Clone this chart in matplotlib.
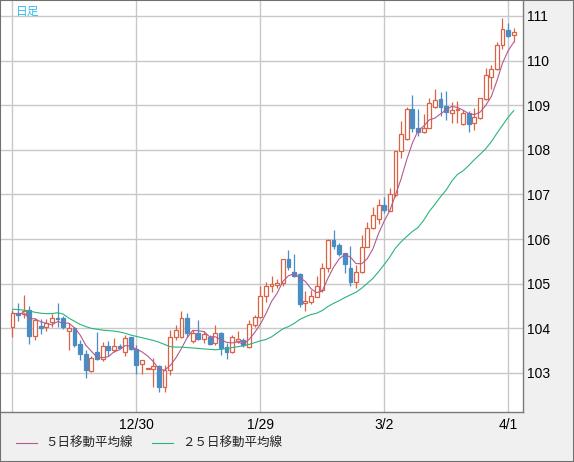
import matplotlib
matplotlib.use("Agg")
import matplotlib.pyplot as plt
from matplotlib.lines import Line2D
from matplotlib.patches import Rectangle
import numpy as np
import pandas as pd

plt.rcParams['font.family'] = ['Liberation Sans', 'Noto Sans CJK JP', 'DejaVu Sans']

# ---- data ----
opens = [104.04, 104.35, 104.32, 104.41, 103.84, 104.05, 104.02, 104.14, 104.23, 104.23,
         103.93, 104.00, 103.65, 103.42, 103.05, 103.47, 103.31, 103.61, 103.52, 103.60,
         103.48, 103.80, 103.54, 103.20, 103.10, 103.08, 103.16, 102.69, 103.07, 103.80,
         103.80, 104.23, 103.72, 103.90, 103.76, 103.80, 103.67, 103.90, 103.59, 103.48,
         103.72, 103.75, 103.59, 104.08, 104.25, 104.73, 104.95, 104.97, 105.01, 105.56,
         105.27, 105.22, 104.56, 104.60, 104.71, 104.85, 105.35, 105.98, 105.87, 105.68,
         105.36, 105.05, 105.26, 105.83, 106.24, 106.45, 106.77, 106.64, 106.99, 107.98,
         108.24, 108.92, 108.50, 108.40, 108.49, 108.96, 109.14, 108.99, 108.82, 108.90,
         108.58, 108.82, 108.60, 108.71, 109.14, 109.64, 109.81, 110.35, 110.69, 110.58]
highs = [104.41, 104.56, 104.75, 104.51, 104.23, 104.20, 104.20, 104.32, 104.56, 104.27,
         104.12, 104.04, 103.74, 103.52, 103.38, 103.92, 103.70, 103.71, 103.78, 103.65,
         103.85, 103.81, 103.63, 103.29, 103.12, 103.33, 103.18, 103.18, 103.96, 104.08,
         104.39, 104.34, 103.96, 104.19, 103.93, 103.85, 104.08, 103.91, 103.67, 103.85,
         103.93, 103.78, 104.19, 104.30, 104.94, 105.05, 105.17, 105.10, 105.56, 105.76,
         105.66, 105.23, 104.84, 104.86, 105.17, 105.46, 106.00, 106.21, 105.91, 105.69,
         105.85, 105.42, 106.09, 106.39, 106.71, 106.89, 106.95, 107.14, 107.98, 108.64,
         108.96, 109.23, 108.92, 108.81, 109.16, 109.37, 109.29, 109.32, 109.08, 109.10,
         108.90, 108.87, 108.93, 109.16, 109.83, 109.91, 110.41, 110.95, 110.84, 110.73]
lows = [103.81, 104.17, 104.23, 103.65, 103.74, 103.88, 103.95, 104.04, 104.04, 103.99,
        103.52, 103.59, 103.30, 102.88, 103.03, 103.29, 103.27, 103.38, 103.48, 103.55,
        103.38, 103.52, 102.97, 102.98, 103.09, 102.69, 102.58, 102.58, 102.96, 103.74,
        103.78, 103.81, 103.67, 103.74, 103.67, 103.63, 103.63, 103.40, 103.31, 103.44,
        103.67, 103.59, 103.55, 104.04, 104.23, 104.60, 104.82, 104.90, 104.94, 105.31,
        105.14, 104.47, 104.40, 104.55, 104.70, 104.82, 105.27, 105.78, 105.62, 105.23,
        104.95, 104.91, 105.23, 105.82, 106.22, 106.34, 106.58, 106.62, 106.94, 107.81,
        108.22, 108.41, 108.31, 108.37, 108.48, 108.93, 108.75, 108.67, 108.61, 108.61,
        108.56, 108.40, 108.45, 108.69, 109.12, 109.36, 109.79, 110.26, 110.52, 110.41]
closes = [104.34, 104.30, 104.40, 103.84, 104.19, 104.01, 104.13, 104.23, 104.20, 104.02,
          104.00, 103.63, 103.42, 103.06, 103.33, 103.31, 103.60, 103.52, 103.60, 103.57,
          103.78, 103.54, 103.18, 103.29, 103.11, 103.16, 102.69, 103.07, 103.80, 103.96,
          104.23, 103.89, 103.89, 103.76, 103.87, 103.65, 103.89, 103.55, 103.48, 103.80,
          103.76, 103.63, 104.09, 104.25, 104.73, 104.95, 105.00, 105.02, 105.55, 105.38,
          105.17, 104.55, 104.61, 104.73, 104.94, 105.35, 105.98, 105.85, 105.66, 105.44,
          105.05, 105.26, 105.83, 106.24, 106.54, 106.77, 106.65, 107.01, 107.98, 108.35,
          108.92, 108.49, 108.40, 108.50, 109.05, 109.12, 108.97, 108.84, 108.90, 108.92,
          108.82, 108.58, 108.73, 109.16, 109.68, 109.81, 110.35, 110.71, 110.56, 110.64]
ma25 = [104.43, 104.42, 104.41, 104.39, 104.36, 104.34, 104.33, 104.33, 104.35, 104.32,
        104.23, 104.16, 104.09, 104.04, 104.00, 103.98, 103.96, 103.95, 103.94, 103.92,
        103.89, 103.85, 103.82, 103.79, 103.76, 103.73, 103.69, 103.64, 103.59, 103.58,
        103.58, 103.57, 103.56, 103.55, 103.54, 103.53, 103.52, 103.53, 103.55, 103.57,
        103.59, 103.61, 103.64, 103.68, 103.72, 103.75, 103.81, 103.90, 103.99, 104.04,
        104.11, 104.20, 104.26, 104.31, 104.34, 104.40, 104.49, 104.56, 104.62, 104.69,
        104.75, 104.81, 104.90, 105.01, 105.12, 105.27, 105.43, 105.60, 105.80, 105.94,
        106.06, 106.17, 106.26, 106.42, 106.62, 106.78, 106.95, 107.10, 107.30, 107.45,
        107.53, 107.65, 107.78, 107.90, 108.02, 108.18, 108.37, 108.55, 108.73, 108.88]
x_tick_pos = [0, 22, 44, 66, 88]
x_tick_labels = ['', '12/30', '1/29', '3/2', '4/1']
y_ticks = [103, 104, 105, 106, 107, 108, 109, 110, 111]
legend_labels = ['５日移動平均線', '２５日移動平均線']
title_text = '日足'

UP = '#DA6245'
DOWN = '#4A8CC4'
MA5_C = '#B45A8C'
MA25_C = '#2BB478'
GRID = '#C8C8C8'

W, H = 574, 462
fig = plt.figure(figsize=(W / 100, H / 100), dpi=100, facecolor='#F0F0F0')
ax = fig.add_axes([1 / W, 50 / H, 522 / W, 411 / H])
ax.set_facecolor('white')

o = np.array(opens); h = np.array(highs); l = np.array(lows); c = np.array(closes)
x = np.arange(len(o))
up = c >= o

# wicks
ax.vlines(x[up], l[up], h[up], color=UP, lw=0.9, zorder=2)
ax.vlines(x[~up], l[~up], h[~up], color=DOWN, lw=0.9, zorder=2)
# bodies
bh = np.maximum(np.abs(c - o), 0.006)
bb = np.minimum(o, c)
ax.bar(x[up], bh[up], bottom=bb[up], width=0.68, facecolor='white', edgecolor=UP, lw=0.9, zorder=3)
ax.bar(x[~up], bh[~up], bottom=bb[~up], width=0.68, facecolor=DOWN, edgecolor=DOWN, lw=0.9, zorder=3)

ma5 = pd.Series(closes).rolling(5, min_periods=1).mean()
ax.plot(x, ma5, color=MA5_C, lw=0.8, zorder=4)
ax.plot(x, ma25, color=MA25_C, lw=0.8, zorder=4)

ax.set_xlim(-2.04, 90.64)
ax.set_ylim(102.126, 111.336)
ax.set_xticks(x_tick_pos)
ax.set_xticklabels(x_tick_labels)
ax.set_yticks(y_ticks)
ax.set_yticklabels([str(v) for v in y_ticks])
ax.yaxis.tick_right()
ax.tick_params(axis='both', length=0, labelsize=10, colors='black')
ax.tick_params(axis='x', pad=4.5)
ax.tick_params(axis='y', pad=3)
ax.grid(True, color=GRID, lw=1.0, zorder=0)
ax.set_axisbelow(True)
for s in ['left', 'top']:
    ax.spines[s].set_visible(False)
for s in ['right', 'bottom']:
    ax.spines[s].set_color('#7A7A7A')
    ax.spines[s].set_linewidth(1.0)

fig.text(16 / W, 1 - 11 / H, title_text, color='#33BBEE', fontsize=8.5,
         family=['Noto Sans CJK JP', 'DejaVu Sans'], va='center', ha='left')

ly = 19 / H
for (x0, x1, tx), lab, col in zip([(16, 37, 45), (152, 173, 182)], legend_labels, [MA5_C, MA25_C]):
    fig.add_artist(Line2D([x0 / W, x1 / W], [ly, ly], transform=fig.transFigure, color=col, lw=0.8))
    fig.text(tx / W, ly, lab, fontsize=9, family=['Noto Sans CJK JP', 'DejaVu Sans'],
             va='center', ha='left', color='#222222')

fig.add_artist(Rectangle((0, 0), 1, 1, transform=fig.transFigure, fill=False,
                         edgecolor='#707070', lw=1.5))

fig.savefig('out.png', dpi=100, facecolor=fig.get_facecolor())
